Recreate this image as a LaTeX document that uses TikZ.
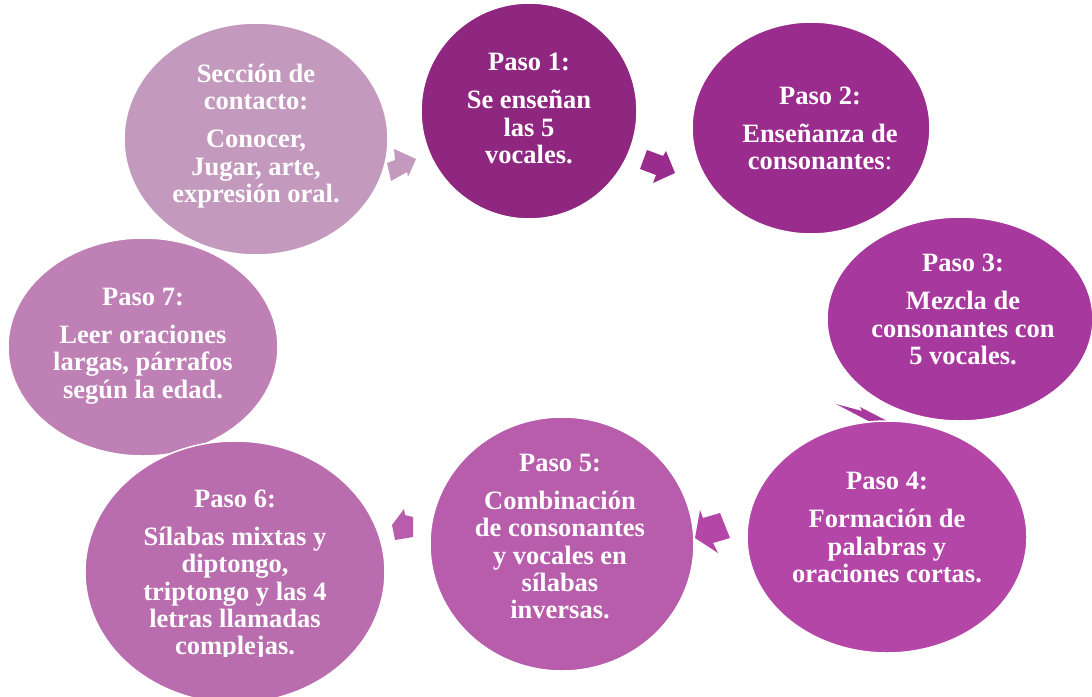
\documentclass[tikz,border=0pt]{standalone}
\usepackage{fontspec}
\setmainfont{Liberation Serif}
\usetikzlibrary{shapes.geometric}
\definecolor{cS}{HTML}{C39ABD}
\definecolor{cA}{HTML}{8F2680}
\definecolor{cB}{HTML}{9A2C8E}
\definecolor{cC}{HTML}{A7389D}
\definecolor{cD}{HTML}{B446A8}
\definecolor{cE}{HTML}{B75DAC}
\definecolor{cF}{HTML}{B96DAE}
\definecolor{cG}{HTML}{BE80B5}
\tikzset{
  bub/.style={ellipse, draw=white, line width=1.5pt, inner sep=0pt},
  txt/.style={text=white, align=center, inner sep=0pt, font=\fontsize{26.5}{27.3}\selectfont\bfseries},
}
\begin{document}
\begin{tikzpicture}[x=1pt,y=-1pt]
\useasboundingbox (0,0) rectangle (1092,696);
% ellipses
\node[bub, fill=cS, minimum width=264pt, minimum height=232pt] (sc) at (256,139) {};
\node[bub, fill=cA, minimum width=216pt, minimum height=216pt] (p1) at (529,111) {};
\node[bub, fill=cB, minimum width=238pt, minimum height=212pt] (p2) at (811,128) {};
\node[bub, fill=cC, minimum width=266pt, minimum height=204pt] (p3) at (960,319) {};
% arrow 3 (mostly hidden behind Paso 4)
\fill[cC] (836,404) -- (862,411) -- (860,407) -- (893,424) -- (878,426) -- cycle;
\node[bub, fill=cD, minimum width=280pt, minimum height=232pt] (p4) at (887,537) {};
\node[bub, fill=cE, minimum width=264pt, minimum height=254pt] (p5) at (562,544) {};
\node[bub, fill=cG, minimum width=270pt, minimum height=218pt] (p7) at (143,347) {};
\node[bub, fill=cF, minimum width=300pt, minimum height=262pt] (p6) at (235,572) {};
% block arrows
\fill[cS] (387,163) -- (395,160) -- (394,149) -- (416,159) -- (408,177) -- (407,172) -- (391,181) -- cycle;
\fill[cB] (647,150) -- (663,156) -- (666,151) -- (675,173) -- (653,183) -- (656,175) -- (640,169) -- cycle;
\fill[cD] (695,538) -- (700,510) -- (703,518) -- (720,513) -- (730,538) -- (713,543) -- (718,553) -- cycle;
\fill[cE] (392,525) -- (404,509) -- (405,515) -- (413,517) -- (413,537) -- (395,540) -- cycle;
% texts
\node[txt] (ts) at (256,136) {Sección de\\contacto:\\[11pt]Conocer,\\Jugar, arte,\\expresión oral.};
\node[txt] (t1) at (529,108.5) {Paso 1:\\[11pt]Se enseñan\\las 5\\vocales.};
\node[txt] (t2) at (820,128.5) {Paso 2:\\[11pt]Enseñanza de\\consonantes{\mdseries:}};
\node[txt] (t3) at (963,309.5) {Paso 3:\\[11pt]Mezcla de\\consonantes con\\5 vocales.};
\node[txt] (t4) at (887,527.5) {Paso 4:\\[11pt]Formación de\\palabras y\\oraciones cortas.};
\node[txt] (t7) at (143,346) {Paso 7:\\[11pt]Leer oraciones\\largas, párrafos\\según la edad.};
\node[txt] (t5) at (560,536.5) {Paso 5:\\[11pt]Combinación\\de consonantes\\y vocales en\\sílabas\\inversas.};
\begin{scope}
\clip (86,440) rectangle (384,656);
\node[txt] (t6) at (235,575) {Paso 6:\\[11pt]Sílabas mixtas y\\diptongo,\\triptongo y las 4\\letras llamadas\\complejas.};
\end{scope}
\end{tikzpicture}
\end{document}
